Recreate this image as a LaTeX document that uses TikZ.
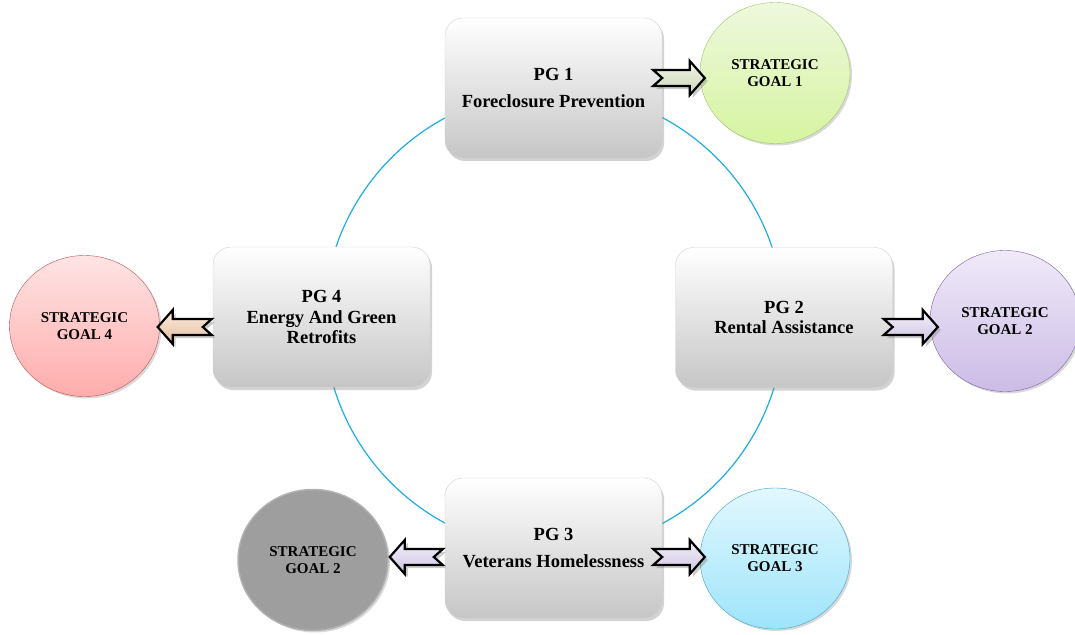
\documentclass[tikz,border=0pt]{standalone}
\usepackage{fontspec}
\setmainfont{Liberation Serif}
\usetikzlibrary{positioning}
\usetikzlibrary{shapes.geometric}
\usetikzlibrary{shadows}
\usetikzlibrary{calc}
\definecolor{ringblue}{RGB}{30,172,230}
\definecolor{boxgray}{RGB}{198,198,198}
\definecolor{greentop}{RGB}{238,248,222}
\definecolor{greenbot}{RGB}{214,244,160}
\definecolor{greenline}{RGB}{160,196,100}
\definecolor{redtop}{RGB}{255,228,228}
\definecolor{redbot}{RGB}{255,172,172}
\definecolor{redline}{RGB}{190,80,80}
\definecolor{purpletop}{RGB}{240,234,249}
\definecolor{purplebot}{RGB}{204,188,230}
\definecolor{purpleline}{RGB}{125,92,165}
\definecolor{cyantop}{RGB}{226,248,255}
\definecolor{cyanbot}{RGB}{158,228,250}
\definecolor{cyanline}{RGB}{60,160,200}
\definecolor{grayball}{RGB}{158,158,158}
\definecolor{lavtop}{RGB}{244,240,250}
\definecolor{lavbot}{RGB}{205,196,226}
\definecolor{peachtop}{RGB}{253,236,222}
\definecolor{peachbot}{RGB}{228,190,160}
\definecolor{sagetop}{RGB}{240,244,228}
\definecolor{sagebot}{RGB}{206,214,186}
\tikzset{x=1pt, y=-1pt,
    pgbox/.style={
        rectangle,
        rounded corners=18pt,
        minimum width=217pt,
        minimum height=140pt,
        draw=black!18,
        top color=white,
        bottom color=boxgray,
        drop shadow={shadow xshift=2pt, shadow yshift=-3pt, opacity=0.35},
        align=center,
        font=\fontsize{18.5}{20.5}\selectfont\bfseries},
    goal/.style={
        ellipse,
        minimum width=150pt,
        minimum height=141pt,
        inner sep=0pt,
        align=center,
        font=\fontsize{15}{17}\selectfont\bfseries,
        drop shadow={shadow xshift=2pt, shadow yshift=-2pt, opacity=0.3}},
    blockarrow/.style={
        draw=black,
        line width=2.2pt,
        line join=miter,
        drop shadow={shadow xshift=3pt, shadow yshift=-3pt, opacity=0.4}}}
% notched block arrow from a tail point to a tip point (horizontal)
\newcommand{\blockarrow}[3]{%
    \draw[blockarrow,#1]
        ($(#2)+(0,-8)$) -- ($(#3)!15pt!(#2)+(0,-8)$) -- ($(#3)!15pt!(#2)+(0,-17)$)
        -- (#3) -- ($(#3)!15pt!(#2)+(0,17)$) -- ($(#3)!15pt!(#2)+(0,8)$)
        -- ($(#2)+(0,8)$) -- ($(#2)!9pt!(#3)$) -- cycle;}
\begin{document}
\begin{tikzpicture}
    \useasboundingbox (0,0) rectangle (1075,634);
    \draw[ringblue, line width=1.2pt] (554,320.5) circle [radius=230pt];

    % programme goals
    \node[pgbox] (pg1) at (553.5,88) {PG 1\\[6pt]Foreclosure Prevention};
    \node[pgbox] (pg2) at (784,317.5) {PG 2\\Rental Assistance};
    \node[pgbox] (pg3) at (553.5,548) {PG 3\\[6pt]Veterans Homelessness};
    \node[pgbox] (pg4) at (321.5,317) {PG 4\\Energy And Green\\Retrofits};

    % strategic goals
    \node[goal, top color=greentop, bottom color=greenbot, draw=greenline] (sg1) at (775,73) {STRATEGIC\\GOAL 1};
    \node[goal, top color=purpletop, bottom color=purplebot, draw=purpleline] (sg2) at (1005,321) {STRATEGIC\\GOAL 2};
    \node[goal, top color=cyantop, bottom color=cyanbot, draw=cyanline] (sg3) at (775,558.5) {STRATEGIC\\GOAL 3};
    \node[goal, top color=redtop, bottom color=redbot, draw=redline] (sg4) at (84.5,326) {STRATEGIC\\GOAL 4};
    \node[goal, fill=grayball, draw=grayball!80!white, line width=1.5pt] (sg5) at (313,560) {STRATEGIC\\GOAL 2};

    % arrows
    \coordinate (a1t) at ($(pg1.east |- sg1.west)+(-9,5)$);
    \coordinate (a1h) at ($(sg1.west)+(5,5)$);
    \coordinate (a2t) at ($(pg2.east |- sg2.west)+(-9,6)$);
    \coordinate (a2h) at ($(sg2.west)+(8,6)$);
    \coordinate (a3t) at ($(pg3.east |- sg3.west)+(-9,-1.5)$);
    \coordinate (a3h) at ($(sg3.west)+(5,-1.5)$);
    \coordinate (a4t) at ($(pg4.west |- sg4.east)+(-1,1)$);
    \coordinate (a4h) at ($(sg4.east)+(-2,1)$);
    \coordinate (a5t) at ($(pg3.west |- sg5.east)+(-2,-3)$);
    \coordinate (a5h) at ($(sg5.east)+(1,-3)$);
    \blockarrow{top color=sagetop, bottom color=sagebot}{a1t}{a1h}
    \blockarrow{top color=lavtop, bottom color=lavbot}{a2t}{a2h}
    \blockarrow{top color=lavtop, bottom color=lavbot}{a3t}{a3h}
    \blockarrow{top color=peachtop, bottom color=peachbot}{a4t}{a4h}
    \blockarrow{top color=lavtop, bottom color=lavbot}{a5t}{a5h}
\end{tikzpicture}
\end{document}
